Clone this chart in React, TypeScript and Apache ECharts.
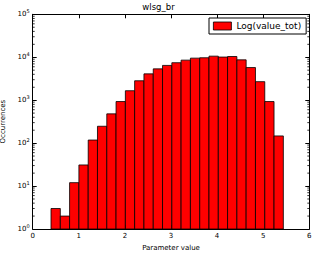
import { useEffect, useRef } from "react";
import * as echarts from "echarts";

// Histogram bin edges (Parameter value)
const binEdges = [
  0.397, 0.599, 0.8, 1.002, 1.204, 1.405, 1.607, 1.808, 2.01, 2.211, 2.413, 2.615, 2.816,
  3.018, 3.219, 3.421, 3.623, 3.824, 4.026, 4.227, 4.429, 4.63, 4.832, 5.034, 5.235, 5.437,
];
// Occurrences per bin
const counts = [
  3, 2, 12, 31, 118, 247, 480, 930, 1660, 2830, 4100, 5360, 6450, 7460, 8560, 9530, 9730,
  10600, 10100, 10400, 8700, 5750, 2700, 930, 147,
];
// Log minor tick positions
const minorTickValues = [
  2, 3, 4, 5, 6, 7, 8, 9, 20, 30, 40, 50, 60, 70, 80, 90, 200, 300, 400, 500, 600, 700, 800,
  900, 2000, 3000, 4000, 5000, 6000, 7000, 8000, 9000, 20000, 30000, 40000, 50000, 60000,
  70000, 80000, 90000,
];

const FONT = "DejaVu Sans";
const SERIES_NAME = "Log(value_tot)";

export default function App() {
  const ref = useRef<HTMLDivElement>(null);
  useEffect(() => {
    const chart = echarts.init(ref.current!, null, { renderer: "svg" });
    const histData = counts.map((c, i) => [binEdges[i], binEdges[i + 1], c]);
    const xMin = 0;
    const xMax = 6;
    const tickCommon = {
      show: true,
      inside: true,
      length: 4,
      lineStyle: { color: "#000", width: 1 },
    };
    const option: any = {
      animation: false,
      backgroundColor: "#fff",
      textStyle: { fontFamily: FONT },
      title: {
        text: "wlsg_br",
        left: "center",
        top: 0,
        padding: [2, 5, 2, 5],
        textStyle: { fontFamily: FONT, fontSize: 8.5, fontWeight: "normal", color: "#000" },
      },
      legend: {
        data: [
          {
            name: SERIES_NAME,
            icon: "rect",
            itemStyle: { color: "#ff0000", borderColor: "#000", borderWidth: 0.8 },
          },
        ],
        left: 209,
        top: 18,
        padding: [3, 5, 3, 4],
        itemWidth: 18,
        itemHeight: 8,
        backgroundColor: "#fff",
        borderColor: "#000",
        borderWidth: 1,
        borderRadius: 0,
        textStyle: { fontFamily: FONT, fontSize: 9, color: "#000", lineHeight: 10 },
      },
      grid: {
        left: 32.7,
        right: 7.7,
        top: 14.3,
        bottom: 25,
        containLabel: false,
        outerBoundsMode: "none",
      },
      xAxis: [
        {
          type: "value",
          min: xMin,
          max: xMax,
          interval: 1,
          position: "bottom",
          name: "Parameter value",
          nameLocation: "middle",
          nameGap: 15,
          nameTextStyle: { fontFamily: FONT, fontSize: 7, color: "#000" },
          axisLine: { show: true, onZero: false, lineStyle: { color: "#000", width: 1 } },
          axisTick: tickCommon,
          axisLabel: { fontFamily: FONT, fontSize: 7, color: "#000", margin: 3 },
          splitLine: { show: false },
        },
        {
          type: "value",
          min: xMin,
          max: xMax,
          interval: 1,
          position: "top",
          axisLine: { show: true, onZero: false, lineStyle: { color: "#000", width: 1 } },
          axisTick: tickCommon,
          axisLabel: { show: false },
          splitLine: { show: false },
        },
      ],
      yAxis: [
        {
          type: "log",
          logBase: 10,
          min: 1,
          max: 100000,
          position: "left",
          name: "Occurrences",
          nameLocation: "middle",
          nameGap: 23,
          nameRotate: 90,
          nameTextStyle: { fontFamily: FONT, fontSize: 7, color: "#000" },
          axisLine: { show: true, onZero: false, lineStyle: { color: "#000", width: 1 } },
          axisTick: tickCommon,
          axisLabel: {
            margin: 3,
            formatter: (v: number) => `{b|10}{s|${Math.round(Math.log10(v))}}`,
            rich: {
              b: { fontFamily: FONT, fontSize: 7, color: "#000", lineHeight: 12 },
              s: { fontFamily: FONT, fontSize: 5, color: "#000", lineHeight: 5, verticalAlign: "top" },
            },
          },
          splitLine: { show: false },
        },
        {
          type: "log",
          logBase: 10,
          min: 1,
          max: 100000,
          position: "right",
          axisLine: { show: true, onZero: false, lineStyle: { color: "#000", width: 1 } },
          axisTick: tickCommon,
          axisLabel: { show: false },
          splitLine: { show: false },
        },
      ],
      series: [
        {
          type: "custom",
          name: SERIES_NAME,
          xAxisIndex: 0,
          yAxisIndex: 0,
          itemStyle: { color: "#ff0000" },
          encode: { x: [0, 1], y: 2 },
          data: histData,
          renderItem: (params: any, api: any) => {
            const p0 = api.coord([api.value(0), api.value(2)]);
            const p1 = api.coord([api.value(1), 1]);
            return {
              type: "rect",
              shape: { x: p0[0], y: p0[1], width: p1[0] - p0[0], height: p1[1] - p0[1] },
              style: { fill: "#ff0000", stroke: "#000", lineWidth: 0.8 },
            };
          },
          z: 2,
        },
        {
          type: "custom",
          name: "minorTicks",
          xAxisIndex: 0,
          yAxisIndex: 0,
          silent: true,
          encode: { y: 0 },
          data: minorTickValues.map((v) => [v]),
          renderItem: (params: any, api: any) => {
            const l = api.coord([xMin, api.value(0)]);
            const r = api.coord([xMax, api.value(0)]);
            return {
              type: "group",
              children: [
                {
                  type: "line",
                  shape: { x1: l[0], y1: l[1], x2: l[0] + 2, y2: l[1] },
                  style: { stroke: "#000", lineWidth: 0.8 },
                },
                {
                  type: "line",
                  shape: { x1: r[0], y1: r[1], x2: r[0] - 2, y2: r[1] },
                  style: { stroke: "#000", lineWidth: 0.8 },
                },
              ],
            };
          },
          z: 3,
        },
      ],
    };
    chart.setOption(option);
    return () => chart.dispose();
  }, []);
  return (
    <div
      ref={ref}
      style={{ position: "fixed", left: 0, top: 0, width: 317, height: 254, background: "#fff" }}
    />
  );
}
